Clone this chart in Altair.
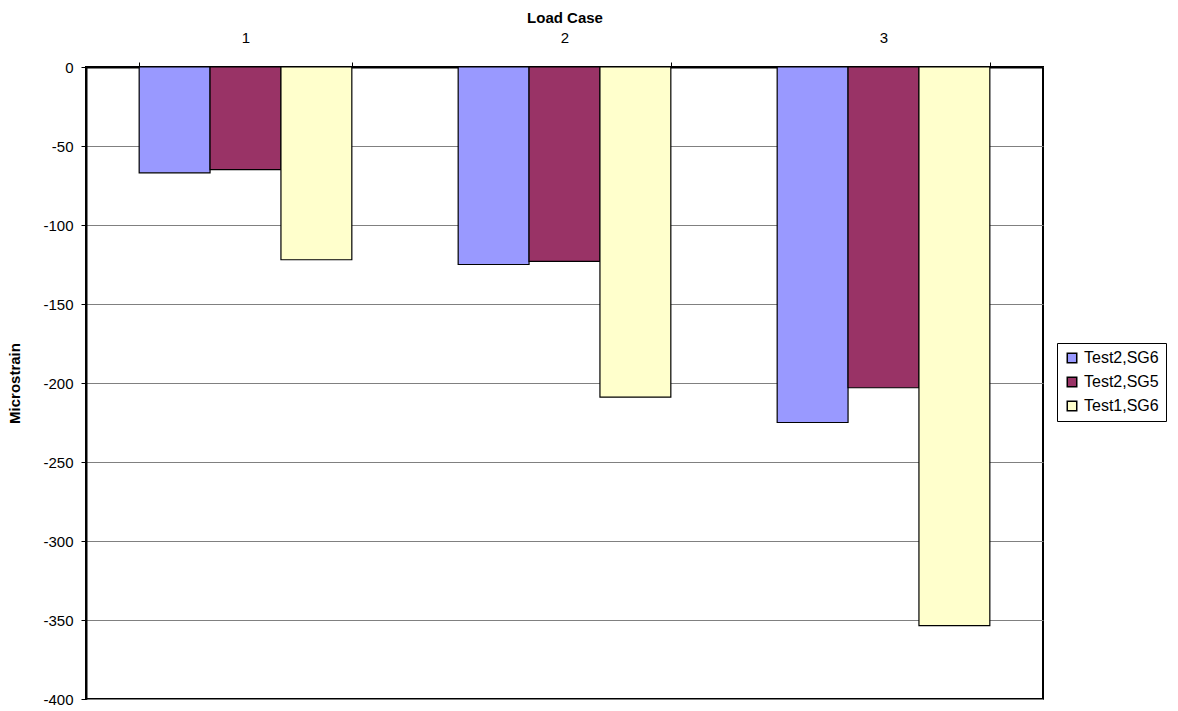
import altair as alt
import pandas as pd

load_cases = ["1", "2", "3"]
series = ["Test2,SG6", "Test2,SG5", "Test1,SG6"]
test2_sg6 = [-67, -125, -225]
test2_sg5 = [-65, -123, -203]
test1_sg6 = [-122, -209, -353.5]
colors = ["#9999FF", "#993366", "#FFFFCC"]
y_ticks = [0, -50, -100, -150, -200, -250, -300, -350, -400]

rows = []
for name, vals in zip(series, [test2_sg6, test2_sg5, test1_sg6]):
    for lc, v in zip(load_cases, vals):
        rows.append({"Load Case": lc, "Series": name, "Microstrain": v})
df = pd.DataFrame(rows)

FONT = "Liberation Sans"

chart = alt.Chart(df).mark_bar(stroke="black", strokeWidth=1.2).encode(
    x=alt.X("Load Case:N", sort=load_cases,
            scale=alt.Scale(paddingInner=1/3, paddingOuter=1/6),
            axis=alt.Axis(orient="top", title="Load Case", labelAngle=0,
                          tickBand="extent", tickSize=5, tickColor="black",
                          domainColor="black", domainWidth=2,
                          labelPadding=17, labelFontSize=15, labelFont=FONT,
                          labelColor="black",
                          titleFont=FONT, titleFontSize=15, titleFontWeight="bold",
                          titleColor="black", titleY=-50, titleBaseline="middle")),
    xOffset=alt.XOffset("Series:N", sort=series, scale=alt.Scale(paddingInner=0, paddingOuter=0)),
    y=alt.Y("Microstrain:Q",
            scale=alt.Scale(domain=[-400, 0], nice=False),
            axis=alt.Axis(values=y_ticks, title="Microstrain", tickSize=5,
                          labelExpr="toString(datum.value)",
                          tickColor="black", domainColor="black", domainWidth=2,
                          gridColor="#808080", gridWidth=1,
                          labelPadding=8, labelFontSize=15, labelFont=FONT,
                          labelColor="black",
                          titleFont=FONT, titleFontSize=15, titleFontWeight="bold",
                          titleColor="black", titleX=-72, titleY=316,
                          titleAngle=270, titleAlign="center", titleBaseline="middle")),
    color=alt.Color("Series:N", sort=series,
                    scale=alt.Scale(domain=series, range=colors),
                    legend=alt.Legend(title=None, orient="none", legendX=971, legendY=276,
                                      symbolType="square", symbolSize=90,
                                      symbolStrokeColor="black", symbolStrokeWidth=1.5,
                                      labelFont=FONT, labelFontSize=16, labelColor="black",
                                      rowPadding=8, padding=7,
                                      fillColor="white", strokeColor="black")),
).properties(
    width=957, height=632,
    padding={"left": 86, "top": 67, "right": 135, "bottom": 12},
    autosize=alt.AutoSizeParams(type="none"),
).configure_view(
    stroke="black", strokeWidth=2
).configure_axisX(grid=False)

chart.save("out.html", embed_options={"renderer": "svg", "actions": False})
